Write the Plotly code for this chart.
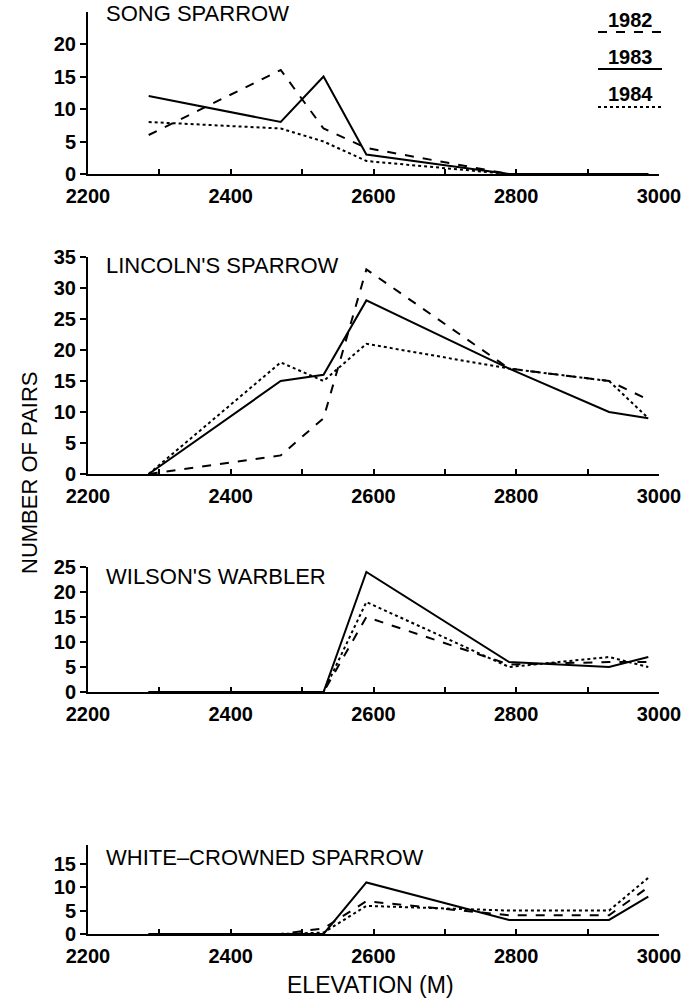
import plotly.graph_objects as go

elev = [2285, 2470, 2530, 2590, 2790, 2930, 2985]
years = ["1982", "1983", "1984"]
dashes = {"1982": "dash", "1983": "solid", "1984": "dot"}

species = ["SONG SPARROW", "LINCOLN'S SPARROW", "WILSON'S WARBLER", "WHITE\u2013CROWNED SPARROW"]

song_1982 = [6, 16, 7, 4, 0, 0, 0]
song_1983 = [12, 8, 15, 3, 0, 0, 0]
song_1984 = [8, 7, 5, 2, 0, 0, 0]

lincoln_1982 = [0, 3, 9, 33, 17, 15, 12]
lincoln_1983 = [0, 15, 16, 28, 17, 10, 9]
lincoln_1984 = [0, 18, 15, 21, 17, 15, 9]

wilson_1982 = [0, 0, 0, 15, 5.5, 6, 6]
wilson_1983 = [0, 0, 0, 24, 6, 5, 7]
wilson_1984 = [0, 0, 0, 18, 5, 7, 5]

wcs_1982 = [0, 0, 1.2, 7, 4, 4, 10]
wcs_1983 = [0, 0, 0, 11, 3, 3, 8]
wcs_1984 = [0, 0, 0.3, 6, 5, 5, 12]

data = [
    {"1982": song_1982, "1983": song_1983, "1984": song_1984},
    {"1982": lincoln_1982, "1983": lincoln_1983, "1984": lincoln_1984},
    {"1982": wilson_1982, "1983": wilson_1983, "1984": wilson_1984},
    {"1982": wcs_1982, "1983": wcs_1983, "1984": wcs_1984},
]

y_ranges = [[0, 25], [0, 35], [0, 25], [0, 19]]
y_ticks = [[0, 5, 10, 15, 20], [0, 5, 10, 15, 20, 25, 30, 35], [0, 5, 10, 15, 20, 25], [0, 5, 10, 15]]
x_tickvals = list(range(2200, 3001, 100))
x_ticktext = ["2200", "", "2400", "", "2600", "", "2800", "", "3000"]

W, H = 686, 1004
# pixel extents (top, bottom) of each panel
panels_px = [(11.5, 174), (257, 474), (567, 692), (845, 934)]
title_cy = [14, 265, 576, 857]
x_px = (88, 659)

FONT = "Liberation Sans"
fig = go.Figure()

for i, (d, (top, bot)) in enumerate(zip(data, panels_px)):
    n = "" if i == 0 else str(i + 1)
    for yr in years:
        fig.add_trace(go.Scatter(
            x=elev, y=d[yr], mode="lines",
            line=dict(color="black", width=2, dash=dashes[yr]),
            xaxis="x" + n, yaxis="y" + n, showlegend=False, hoverinfo="skip",
        ))
    fig.layout["xaxis" + n] = dict(
        domain=[x_px[0] / W, x_px[1] / W], range=[2200, 3000], anchor="y" + n,
        automargin=False,
        showline=True, linecolor="black", linewidth=2, showgrid=False, zeroline=False,
        ticks="inside", ticklen=5, tickwidth=2, tickcolor="black",
        tickvals=x_tickvals, ticktext=x_ticktext, ticklabelstandoff=3,
        tickfont=dict(family=FONT, size=20, color="black", weight="bold"),
    )
    fig.layout["yaxis" + n] = dict(
        domain=[1 - bot / H, 1 - top / H], range=y_ranges[i], anchor="x" + n,
        automargin=False,
        showline=True, linecolor="black", linewidth=2, showgrid=False, zeroline=False,
        ticks="outside", ticklen=6, tickwidth=2, tickcolor="black",
        tickvals=y_ticks[i],
        tickfont=dict(family=FONT, size=20, color="black", weight="bold"),
    )
    fig.add_annotation(
        text=species[i], xref="paper", yref="paper",
        x=104 / W, y=1 - title_cy[i] / H, xanchor="left", yanchor="middle",
        showarrow=False, font=dict(family=FONT, size=22, color="black"),
    )

# legend
leg_y = [20, 57, 94]
line_y = [32, 69, 107]
for yr, ty, ly in zip(years, leg_y, line_y):
    fig.add_annotation(text="<b>" + yr + "</b>", xref="paper", yref="paper",
                       x=630 / W, y=1 - ty / H, xanchor="center", yanchor="middle",
                       showarrow=False, font=dict(family=FONT, size=20, color="black"))
    fig.add_shape(type="line", xref="paper", yref="paper",
                  x0=598 / W, x1=662 / W, y0=1 - ly / H, y1=1 - ly / H,
                  line=dict(color="black", width=2, dash=dashes[yr]))

fig.add_annotation(text="NUMBER OF PAIRS", xref="paper", yref="paper",
                   x=29 / W, y=1 - 473 / H, textangle=-90, showarrow=False,
                   xanchor="center", yanchor="middle",
                   font=dict(family=FONT, size=22, color="black"))
fig.add_annotation(text="ELEVATION (M)", xref="paper", yref="paper",
                   x=370 / W, y=1 - 985 / H, showarrow=False,
                   xanchor="center", yanchor="middle",
                   font=dict(family=FONT, size=23, color="black"))

fig.update_layout(width=W, height=H, margin=dict(l=0, r=0, t=0, b=0),
                  paper_bgcolor="white", plot_bgcolor="white", hovermode=False)
fig.write_html("out.html", config={"displayModeBar": False},
               post_script="document.body.style.margin='0px';")
